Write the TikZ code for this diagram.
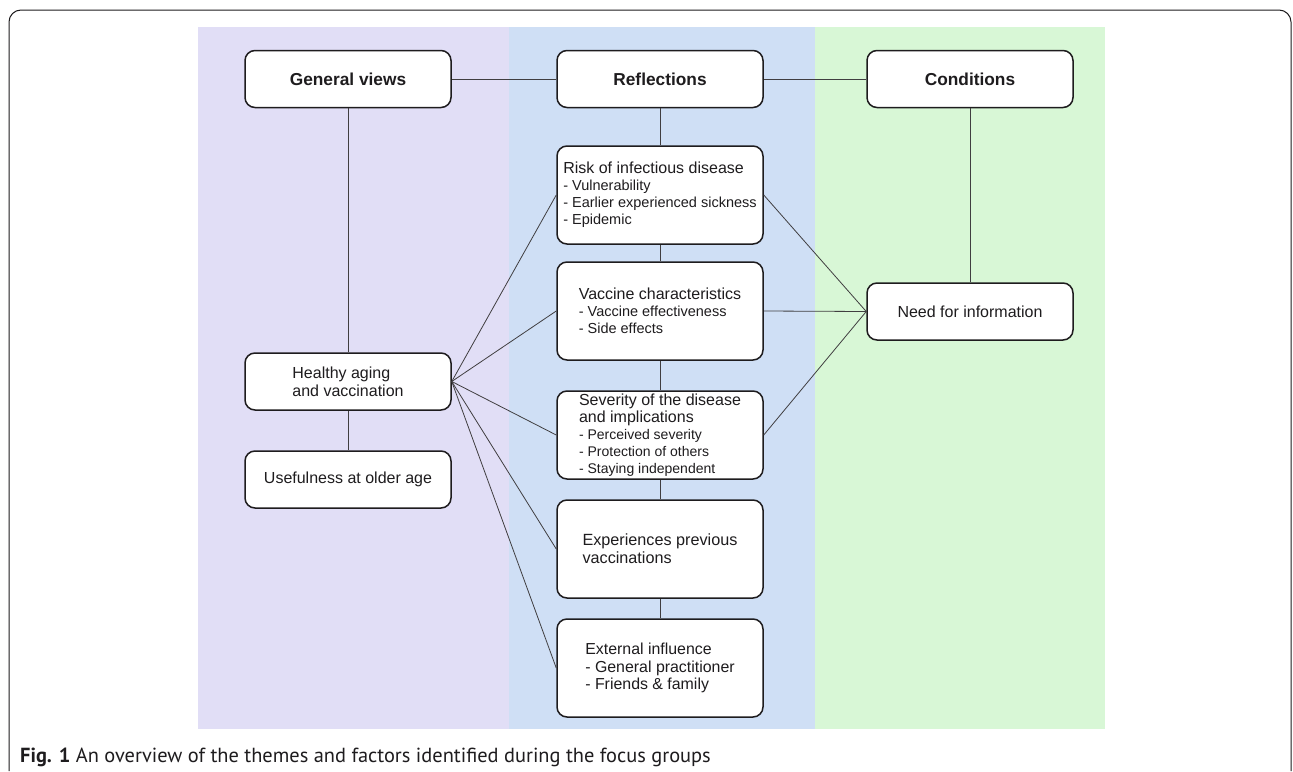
\documentclass[tikz,border=0pt]{standalone}
\usepackage{fontspec}
\setmainfont{Liberation Sans}
\newfontfamily\capfont{PT Sans}
\definecolor{pviolet}{RGB}{225,222,246}
\definecolor{pblue}{RGB}{207,223,245}
\definecolor{pgreen}{RGB}{216,247,214}
\definecolor{ink}{RGB}{30,28,30}
\tikzset{
  box/.style={draw=ink, line width=1.5pt, rounded corners=10pt, fill=white,
    minimum width=206pt, align=left, inner sep=0pt, text=ink,
    font=\fontsize{14.5}{17}\selectfont},
  hdr/.style={box, minimum height=57pt, font=\fontsize{17.3}{20}\selectfont\bfseries},
  link/.style={draw=ink!85, line width=0.8pt}
}
\newcommand{\ttl}[1]{{\fontsize{16}{17}\selectfont #1}}
\begin{document}
\begin{tikzpicture}[x=1pt,y=-1pt]
\useasboundingbox (0,0) rectangle (1293,771);
\fill[white] (0,0) rectangle (1293,771);
% panels
\fill[pviolet] (198,27) rectangle (509,729);
\fill[pblue] (509,27) rectangle (815,729);
\fill[pgreen] (815,27) rectangle (1105,729);
% frame
\draw[ink, line width=1pt, rounded corners=12pt] (9,771) -- (9,10) -- (1291,10) -- (1291,771);
% header boxes
\node[hdr] (gv) at (348,79) {General views};
\node[hdr] (refl) at (660,79) {Reflections};
\node[hdr] (cond) at (970,79) {Conditions};
% left column
\node[box, minimum height=57pt, font=\fontsize{16}{18}\selectfont] (ha) at (348,381.5) {Healthy aging\\and vaccination};
\node[box, minimum height=57pt, font=\fontsize{16}{18}\selectfont] (use) at (348,479.5) {Usefulness at older age};
% middle column
\node[box, minimum height=98pt] (risk) at (660,195) {\ttl{Risk of infectious disease}\\- Vulnerability\\- Earlier experienced sickness\\- Epidemic};
\node[box, minimum height=98pt] (vac) at (660,311) {\ttl{Vaccine characteristics}\\- Vaccine effectiveness\\- Side effects};
\node[box, minimum height=88pt, font=\fontsize{14}{17}\selectfont] (sev) at (660,435) {\ttl{Severity of the disease}\\\ttl{and implications}\\- Perceived severity\\- Protection of others\\- Staying independent};
\node[box, minimum height=98pt, font=\fontsize{16.2}{18}\selectfont] (exp) at (660,549) {Experiences previous\\vaccinations};
\node[box, minimum height=98pt, font=\fontsize{15.9}{17.5}\selectfont] (ext) at (660,668) {External influence\\- General practitioner\\- Friends \& family};
% right column
\node[box, minimum height=57pt, font=\fontsize{16}{19}\selectfont] (need) at (970,311.5) {Need for information};
% connectors
\draw[link] (gv) -- (refl);
\draw[link] (refl) -- (cond);
\draw[link] (gv) -- (ha);
\draw[link] (ha) -- (use);
\draw[link] (refl) -- (risk);
\draw[link] (risk) -- (vac);
\draw[link] (vac) -- (sev);
\draw[link] (sev) -- (exp);
\draw[link] (exp) -- (ext);
\draw[link] (cond) -- (need);
\foreach \t in {risk,vac,sev,exp,ext}{\draw[link] (ha.east) -- (\t.west);}
\foreach \t in {risk,vac,sev}{\draw[link] (\t.east) -- (need.west);}
% caption
\node[anchor=base west, inner sep=0pt, text=ink] (cap) at (20,762)
  {\capfont\fontsize{20.4}{24}\selectfont\textbf{Fig. 1} An overview of the themes and factors identified during the focus groups};
\end{tikzpicture}
\end{document}
